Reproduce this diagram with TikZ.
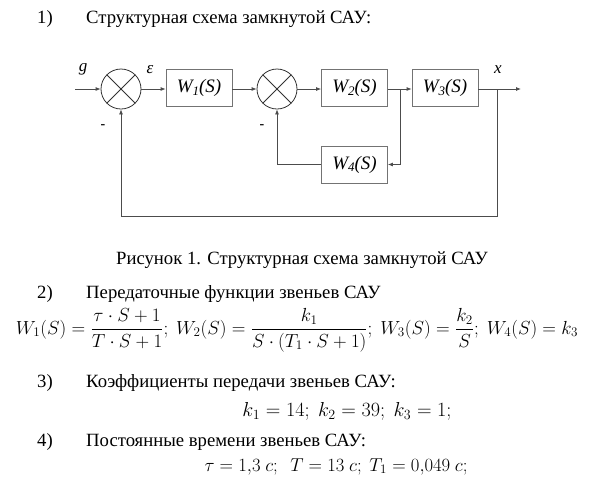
\documentclass[tikz,border=0pt]{standalone}
\usepackage{amsmath}
\usepackage{graphicx}
\usepackage{fontspec}
\setmainfont{Liberation Serif}
\usetikzlibrary{arrows.meta}
\tikzset{
  blk/.style={draw=black!55, line width=0.8pt, minimum width=66pt, minimum height=37pt, inner sep=0pt, font=\fontsize{19}{21}\selectfont\itshape},
  sumc/.style={circle, draw=black!80, line width=0.8pt, minimum size=40pt, inner sep=0pt,
    path picture={\draw[black!80, line width=0.8pt] (path picture bounding box.south west) -- (path picture bounding box.north east) (path picture bounding box.north west) -- (path picture bounding box.south east);}},
  wire/.style={draw=black!70, line width=0.8pt},
  arr/.style={wire, -{Latex[length=5pt,width=4pt]}},
  lbl/.style={font=\fontsize{17}{19}\selectfont\itshape, inner sep=0pt},
  body/.style={font=\fontsize{18.7}{21}\selectfont, inner sep=0pt, anchor=base west},
  capt/.style={font=\fontsize{18.7}{21}\selectfont, inner sep=0pt, anchor=base},
  mth/.style={inner sep=0pt, font=\fontsize{17.28}{21}\selectfont},
}
\newcommand{\wsub}[1]{W\raisebox{-0.3ex}{\fontsize{13}{14}\selectfont #1}(S)}
\begin{document}
\begin{tikzpicture}[x=1pt,y=-1pt]
\useasboundingbox[fill=white] (0,0) rectangle (608,491);
% diagram
\node[sumc] (s1) at (121,89) {};
\node[blk] (w1) at (199,88) {\wsub{1}};
\node[sumc] (s2) at (277,89) {};
\node[blk] (w2) at (354.5,88) {\wsub{2}};
\node[blk] (w3) at (445,88) {\wsub{3}};
\node[blk] (w4) at (354.5,164.5) {\wsub{4}};
\coordinate (in) at (75,89);
\coordinate (br) at (400,89);
\coordinate (ob) at (497,89);
\coordinate (out) at (521,89);
\coordinate (brd) at (400,164.5);
\coordinate (fb1) at (497,216);
\coordinate (fb2) at (121,216);
\coordinate (fb3) at (277,164.5);

\draw[arr] (in) -- (s1);
\draw[arr] (s1) -- (s1 -| w1.west);
\draw[arr] (w1.east |- s2) -- (s2);
\draw[arr] (s2) -- (s2 -| w2.west);
\draw[wire] (w2.east |- br) -- (br);
\draw[arr] (br) -- (br -| w3.west);
\draw[arr] (w3.east |- ob) -- (out);
\draw[arr] (br) -- (brd) -- (w4.east);
\draw[arr] (w4.west) -- (fb3) -- (s2);
\draw[arr] (ob) -- (fb1) -- (fb2) -- (s1);

\node[lbl] (g) at (83,69) {g};
\node[lbl] (eps) at (150,70) {ε};
\node[lbl] (xl) at (498,70) {x};
\node[font=\fontsize{14}{16}\selectfont\bfseries, inner sep=0pt] (m1) at (103,127) {-};
\node[font=\fontsize{14}{16}\selectfont\bfseries, inner sep=0pt] (m2) at (262,127) {-};

% texts
\node[body] (n1) at (37,23) {1)};
\node[body] (t1) at (86,23) {Структурная схема замкнутой САУ:};
\node[capt] (cap) at (302,264) {Рисунок 1. Структурная схема замкнутой САУ};
\node[body] (n2) at (37,298) {2)};
\node[body] (t2) at (86,298) {Передаточные функции звеньев САУ};
\node[mth] (f1) at (297,330) {\resizebox{562pt}{!}{$W_1(S)=\dfrac{\tau\cdot S+1}{T\cdot S+1};\ W_2(S)=\dfrac{k_1}{S\cdot(T_1\cdot S+1)};\ W_3(S)=\dfrac{k_2}{S};\ W_4(S)=k_3$}};
\node[body] (n3) at (37,387) {3)};
\node[body] (t3) at (86,387) {Коэффициенты передачи звеньев САУ:};
\node[mth, anchor=base] (f2) at (347,416) {\resizebox{209pt}{!}{$k_1=14;\ k_2=39;\ k_3=1;$}};
\node[body] (n4) at (37,446) {4)};
\node[body] (t4) at (86,446) {Постоянные времени звеньев САУ:};
\node[mth, anchor=base] (f3) at (336,471) {\resizebox{263pt}{!}{$\tau=1{,}3\ c;\ \ T=13\ c;\ T_1=0{,}049\ c;$}};
\end{tikzpicture}
\end{document}
